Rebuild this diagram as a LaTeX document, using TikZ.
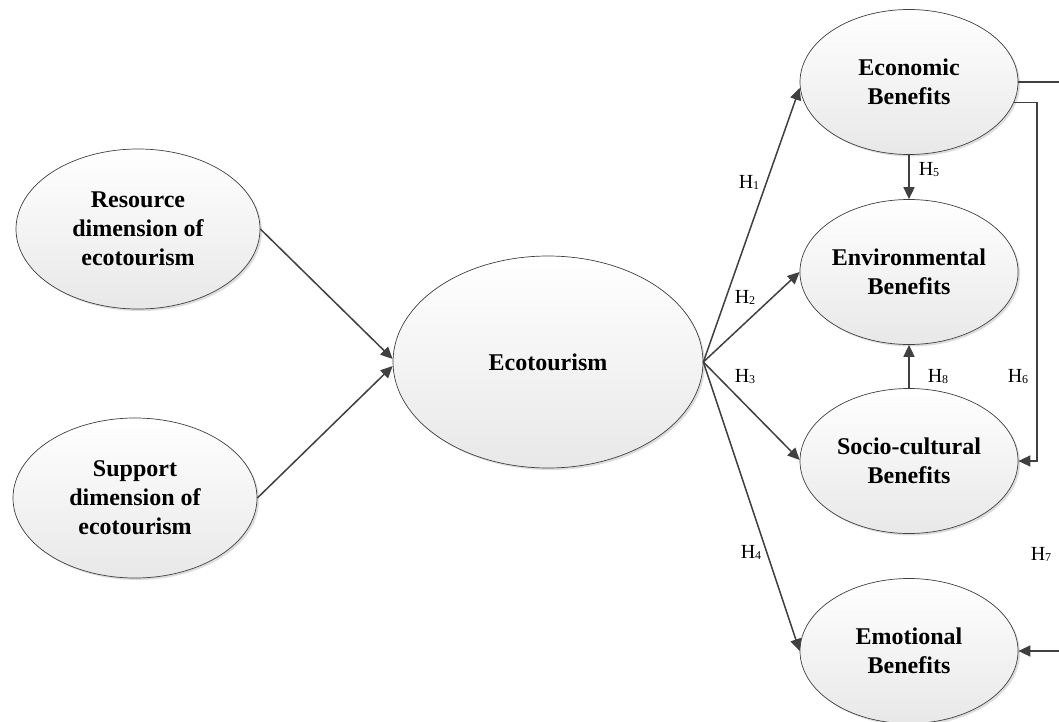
\documentclass[tikz,border=0pt]{standalone}
\usepackage{fontspec}
\setmainfont{Liberation Serif}
\usetikzlibrary{arrows.meta,shapes.geometric,shadows}

% hypothesis label: capital H with a small lowered index
\newcommand\hyplabel[1]{H\raisebox{-1pt}{\fontsize{12}{12}\selectfont #1}}

\tikzset{
  construct/.style={
    ellipse, draw=black!75, line width=0.7pt,
    top color=white, bottom color=black!9,
    drop shadow={shadow xshift=2pt, shadow yshift=-2pt, opacity=0.22, fill=black!60},
    inner sep=0pt, align=center,
    font=\fontsize{24}{29}\selectfont\bfseries
  },
  benefit/.style={construct, minimum width=218pt, minimum height=145pt},
  dimension/.style={construct, minimum width=244pt, minimum height=160pt},
  path link/.style={draw=black!75, line width=1.5pt,
    -{Triangle[length=12pt,width=11pt]}},
  plain link/.style={draw=black!75, line width=1.5pt},
  hyp/.style={font=\fontsize{20}{20}\selectfont, inner sep=0pt}
}

\begin{document}
\begin{tikzpicture}[x=1pt, y=-1pt]
  \useasboundingbox[fill=white] (0,0) rectangle (1059,722);

  % constructs
  \node[dimension] (res) at (138,229) {Resource\\dimension of\\ecotourism};
  \node[dimension] (sup) at (135,498) {Support\\dimension of\\ecotourism};
  \node[construct, minimum width=310pt, minimum height=212pt] (eco) at (548,362) {Ecotourism};
  \node[benefit] (econ) at (909,82)  {Economic\\Benefits};
  \node[benefit] (env)  at (909,272) {Environmental\\Benefits};
  \node[benefit] (soc)  at (909,461) {Socio-cultural\\Benefits};
  \node[benefit] (emo)  at (909,651) {Emotional\\Benefits};

  % antecedents of ecotourism
  \draw[path link] (res.east) -- ([yshift=3pt]eco.west);
  \draw[path link] (sup.east) -- ([yshift=-4pt]eco.west);

  % H1--H4
  \draw[path link] (eco.east) -- ([yshift=-6pt]econ.west);
  \draw[path link] (eco.east) -- (env.west);
  \draw[path link] (eco.east) -- ([yshift=1pt]soc.west);
  \draw[path link] (eco.east) -- (emo.west);

  % H5 and H8
  \draw[path link] (econ.south) -- (env.north);
  \draw[path link] (soc.north) -- (env.south);

  % H6 and H7
  \draw[plain link] (econ.-11) -- ++(23,0) coordinate (h6corner);
  \draw[path link] (h6corner) |- (soc.east);
  \draw[plain link] (econ.east) -- ++(43,0) coordinate (h7corner);
  \draw[path link] (h7corner) |- (emo.east);

  % hypothesis labels
  \node[hyp] (lh1) at (749,182) {\hyplabel{1}};
  \node[hyp] (lh2) at (745,297) {\hyplabel{2}};
  \node[hyp] (lh3) at (745,377) {\hyplabel{3}};
  \node[hyp] (lh4) at (751,552) {\hyplabel{4}};
  \node[hyp] (lh5) at (929,170) {\hyplabel{5}};
  \node[hyp] (lh6) at (1018,377) {\hyplabel{6}};
  \node[hyp] (lh7) at (1041,554) {\hyplabel{7}};
  \node[hyp] (lh8) at (938,377) {\hyplabel{8}};
\end{tikzpicture}
\end{document}
